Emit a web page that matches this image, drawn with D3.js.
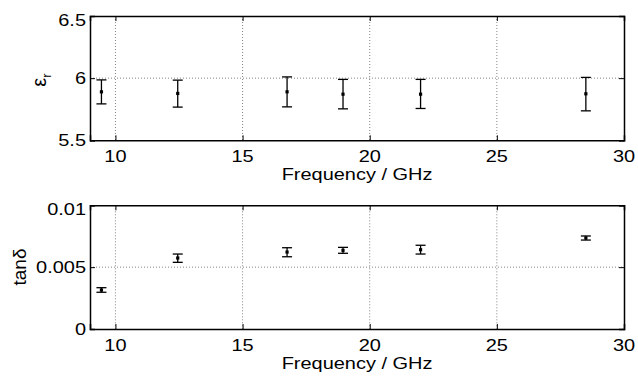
<!DOCTYPE html>
<html><head><meta charset="utf-8">
<script src="https://cdn.jsdelivr.net/npm/d3@7"></script>
<style>body{margin:0;background:#fff}svg{display:block}text{font-family:"Liberation Sans",Arial,sans-serif;fill:#000}</style>
</head><body><svg id="c" width="638" height="378"></svg>
<script>
const freq = [9.45, 12.45, 16.75, 18.95, 22.0, 28.5];
const epsVal = [5.890, 5.877, 5.890, 5.871, 5.871, 5.874];
const epsHi  = [5.986, 5.984, 6.010, 5.990, 5.990, 6.006];
const epsLo  = [5.793, 5.767, 5.769, 5.753, 5.756, 5.737];
const tanVal = [0.00315, 0.00574, 0.00622, 0.00636, 0.00641, 0.00736];
const tanHi  = [0.00334, 0.00606, 0.00657, 0.00660, 0.00677, 0.00752];
const tanLo  = [0.00297, 0.00539, 0.00584, 0.00612, 0.00606, 0.00719];
const xTicks = [10, 15, 20, 25, 30];
const xTickLabels = ["10", "15", "20", "25", "30"];
const epsTicks = [5.5, 6, 6.5];
const epsTickLabels = ["5.5", "6", "6.5"];
const tanTicks = [0, 0.005, 0.01];
const tanTickLabels = ["0", "0.005", "0.01"];
const xLabel = "Frequency / GHz";

const FS = 16.5, SX = 1.21;
const svg = d3.select("#c");
const L = 90, R = 624;
const x = d3.scaleLinear().domain([9, 30]).range([L, R]);

function stretchedText(g, tx, ty, anchor, str) {
  return g.append("text")
    .attr("transform", `translate(${tx},${ty}) scale(${SX},1)`)
    .attr("text-anchor", anchor).style("font-size", FS + "px").text(str);
}

function panel(top, bottom, domain, ticks, tickLabels, val, hi, lo) {
  const y = d3.scaleLinear().domain(domain).range([bottom, top]);
  const g = svg.append("g");
  // grid
  g.selectAll(".gx").data(xTicks.filter(t => t > 9 && t < 30)).join("line")
    .attr("x1", d => x(d)).attr("x2", d => x(d)).attr("y1", top).attr("y2", bottom)
    .attr("stroke", "#666").attr("stroke-width", 0.8).attr("stroke-dasharray", "1,2");
  g.selectAll(".gy").data(ticks.slice(1, -1)).join("line")
    .attr("x1", L).attr("x2", R).attr("y1", d => y(d)).attr("y2", d => y(d))
    .attr("stroke", "#666").attr("stroke-width", 0.8).attr("stroke-dasharray", "1,2");
  // axes (inward ticks)
  const axB = d3.axisBottom(x).tickValues(xTicks).tickSize(-5).tickFormat("");
  const axT = d3.axisTop(x).tickValues(xTicks).tickSize(-5).tickFormat("");
  const axL = d3.axisLeft(y).tickValues(ticks).tickSize(-5).tickFormat("");
  const axR = d3.axisRight(y).tickValues(ticks).tickSize(-5).tickFormat("");
  [[axB, `translate(0,${bottom})`], [axT, `translate(0,${top})`], [axL, `translate(${L},0)`], [axR, `translate(${R},0)`]].forEach(([ax, tr]) => {
    const a = g.append("g").attr("transform", tr).call(ax);
    a.select(".domain").attr("stroke", "#000").attr("stroke-width", 1.5);
    a.selectAll(".tick line").attr("stroke", "#000").attr("stroke-width", 1);
  });
  // tick labels
  xTicks.forEach((t, i) => stretchedText(g, x(t), bottom + 21.5, "middle", xTickLabels[i]));
  ticks.forEach((t, i) => {
    const off = i === ticks.length - 1 ? 4 : 0;
    stretchedText(g, 86, y(t) + 6 + off, "end", tickLabels[i]);
  });
  // error bars
  const eb = g.selectAll(".eb").data(freq).join("g");
  eb.append("line").attr("x1", d => x(d)).attr("x2", d => x(d))
    .attr("y1", (d, i) => y(hi[i])).attr("y2", (d, i) => y(lo[i])).attr("stroke", "#000").attr("stroke-width", 1.3);
  eb.append("line").attr("x1", d => x(d) - 5).attr("x2", d => x(d) + 5)
    .attr("y1", (d, i) => y(hi[i])).attr("y2", (d, i) => y(hi[i])).attr("stroke", "#000").attr("stroke-width", 1.3);
  eb.append("line").attr("x1", d => x(d) - 5).attr("x2", d => x(d) + 5)
    .attr("y1", (d, i) => y(lo[i])).attr("y2", (d, i) => y(lo[i])).attr("stroke", "#000").attr("stroke-width", 1.3);
  eb.append("rect").attr("x", d => x(d) - 1.6).attr("y", (d, i) => y(val[i]) - 1.6)
    .attr("width", 3.2).attr("height", 3.2).attr("fill", "#000");
  // x label
  stretchedText(g, (L + R) / 2, bottom + 40, "middle", xLabel);
  return {g, y};
}

panel(16, 140.3, [5.5, 6.5], epsTicks, epsTickLabels, epsVal, epsHi, epsLo);
const t1 = svg.append("text").attr("transform", "translate(46,80) rotate(-90)").attr("text-anchor", "middle").style("font-size", "20px");
t1.append("tspan").text("ε");
t1.append("tspan").attr("dy", 5).style("font-size", "13px").text("r");

panel(205.3, 329, [0, 0.01], tanTicks, tanTickLabels, tanVal, tanHi, tanLo);
svg.append("text").attr("transform", "translate(25.5,267) rotate(-90)").attr("text-anchor", "middle").style("font-size", "19px").text("tanδ");
</script></body></html>
